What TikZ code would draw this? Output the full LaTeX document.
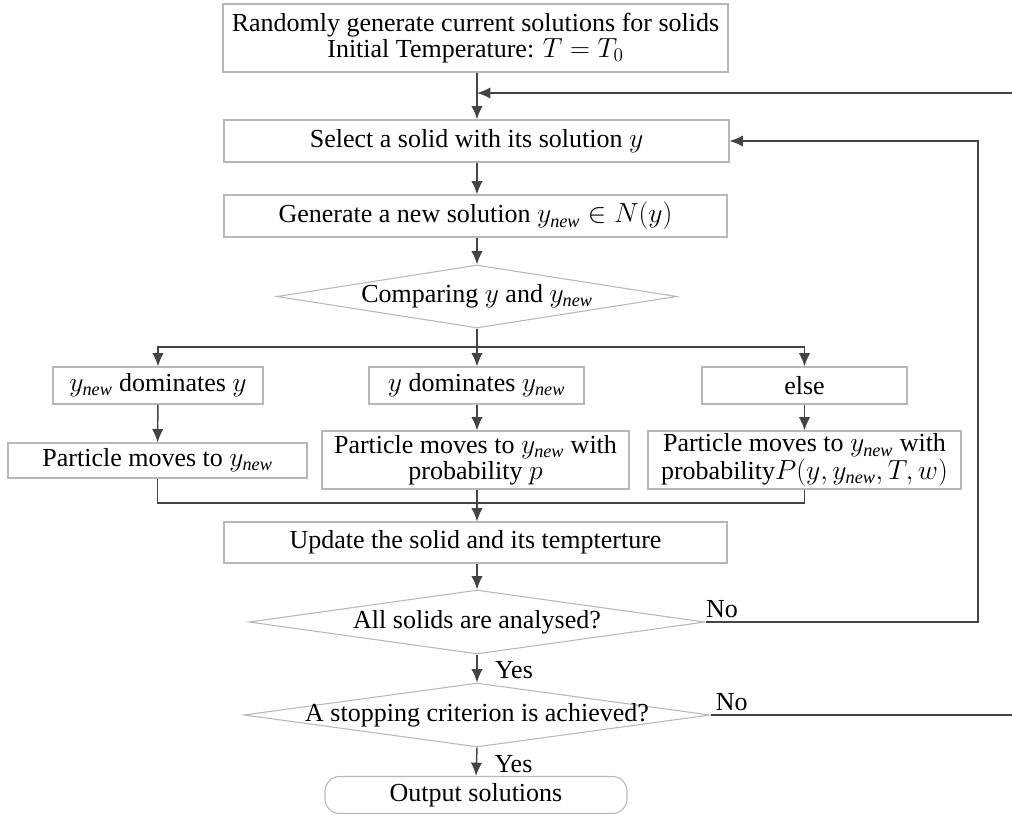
\documentclass[tikz,border=0pt]{standalone}
\usepackage{fontspec}
\setmainfont{Liberation Serif}
\usetikzlibrary{shapes.geometric,arrows.meta}
\definecolor{boxgray}{HTML}{B8B8B8}
\definecolor{linegray}{HTML}{444444}
\newcommand{\ynew}{y_{\mathit{new}}}
\begin{document}
\begin{tikzpicture}[x=0.75pt,y=-0.75pt,
  font=\fontsize{19.5}{18}\selectfont,
  box/.style={draw=boxgray, line width=0.8pt, fill=white, rectangle, inner sep=0pt, align=center},
  twoline/.style={font=\fontsize{19.5}{19.5}\selectfont},
  decision/.style={draw=boxgray, line width=0.8pt, fill=white, diamond, inner sep=0pt},
  terminal/.style={draw=boxgray, line width=0.8pt, fill=white, rectangle, rounded corners=11pt, inner sep=0pt},
  flow/.style={draw=linegray, line width=1.1pt},
  arr/.style={flow, -{Latex[length=10pt,width=8.5pt]}},
  lbl/.style={inner sep=0pt}
]
\useasboundingbox (0,0) rectangle (1012,814);
\def\u{0.75pt}

% process boxes
\node[box, minimum width=505*\u, minimum height=68*\u] (init) at (475.5,38)
  {Randomly generate current solutions for solids\\Initial Temperature: $T=T_0$};
\node[box, minimum width=505*\u, minimum height=42*\u] (select) at (476.5,141)
  {Select a solid with its solution $y$};
\node[box, minimum width=503*\u, minimum height=42*\u] (gen) at (475.5,216)
  {Generate a new solution $\ynew\in N(y)$};
\node[decision, minimum width=400*\u, minimum height=63*\u] (cmp) at (477,296.5)
  {\makebox[0pt]{Comparing $y$ and $\ynew$}};

% three cases
\node[box, minimum width=210*\u, minimum height=37*\u] (caseA) at (158,385.5)
  {$\ynew$ dominates $y$};
\node[box, minimum width=215*\u, minimum height=37*\u] (caseB) at (476.5,385.5)
  {$y$ dominates $\ynew$};
\node[box, minimum width=205*\u, minimum height=37*\u] (caseC) at (804.5,385.5)
  {else};
\node[box, minimum width=299*\u, minimum height=35*\u] (moveA) at (157.5,460.5)
  {Particle moves to $\ynew$};
\node[box, twoline, minimum width=307*\u, minimum height=58*\u] (moveB) at (475.5,460)
  {Particle moves to $\ynew$ with\\probability $p$};
\node[box, twoline, minimum width=313*\u, minimum height=58*\u] (moveC) at (804.5,460)
  {Particle moves to $\ynew$ with\\probability$P(y,\ynew,T,w)$};

\node[box, minimum width=503*\u, minimum height=41*\u] (update) at (475.5,542.5)
  {Update the solid and its tempterture};
\node[decision, minimum width=456*\u, minimum height=64*\u] (alldone) at (477,622)
  {\makebox[0pt]{All solids are analysed?}};
\node[decision, minimum width=466*\u, minimum height=64*\u] (stop) at (477,715)
  {\makebox[0pt]{A stopping criterion is achieved?}};
\node[terminal, minimum width=302*\u, minimum height=37*\u] (out) at (476,795)
  {Output solutions};

% junction points
\coordinate (join) at (477,93);
\coordinate (edgeT) at (1012,93);
\coordinate (edgeB) at (1012,715);
\coordinate (split) at (477,347);
\coordinate (merge) at (477,503);
\coordinate (loopR) at (978,622);

% main flow
\draw[arr] (init.south -| join) -- (select.north -| join);
\draw[arr] (edgeT) -- (join);
\draw[arr] (select.south -| join) -- (gen.north -| join);
\draw[arr] (gen.south -| join) -- (cmp.north);

% branching
\draw[flow] (cmp.south) -- (split);
\draw[arr] (split) -| (caseA.north);
\draw[arr] (split) -- (caseB.north -| split);
\draw[arr] (split) -| (caseC.north);
\draw[arr] (caseA) -- (moveA);
\draw[arr] (caseB.south -| split) -- (moveB.north -| split);
\draw[arr] (caseC) -- (moveC);

% merging
\draw[flow] (moveA.south) |- (merge);
\draw[flow] (moveC.south) |- (merge);
\draw[flow] (moveB.south -| merge) -- (merge);
\draw[arr] (merge) -- (update.north -| merge);
\draw[arr] (update.south -| merge) -- (alldone.north);

% decisions
\draw[arr] (alldone.south) -- node[lbl, anchor=west, xshift=13pt, yshift=-1pt] {Yes} (stop.north);
\draw[arr] (stop.south) -- node[lbl, anchor=west, xshift=13pt, yshift=-2pt] {Yes} (out.north);
\draw[arr] (alldone.east) -- node[lbl, anchor=south, pos=0.06, yshift=3pt] {No} (loopR) -- (loopR |- select.east) -- (select.east);
\draw[flow] (stop.east) -- node[lbl, anchor=south, pos=0.07, yshift=3pt] {No} (edgeB);
\end{tikzpicture}
\end{document}
